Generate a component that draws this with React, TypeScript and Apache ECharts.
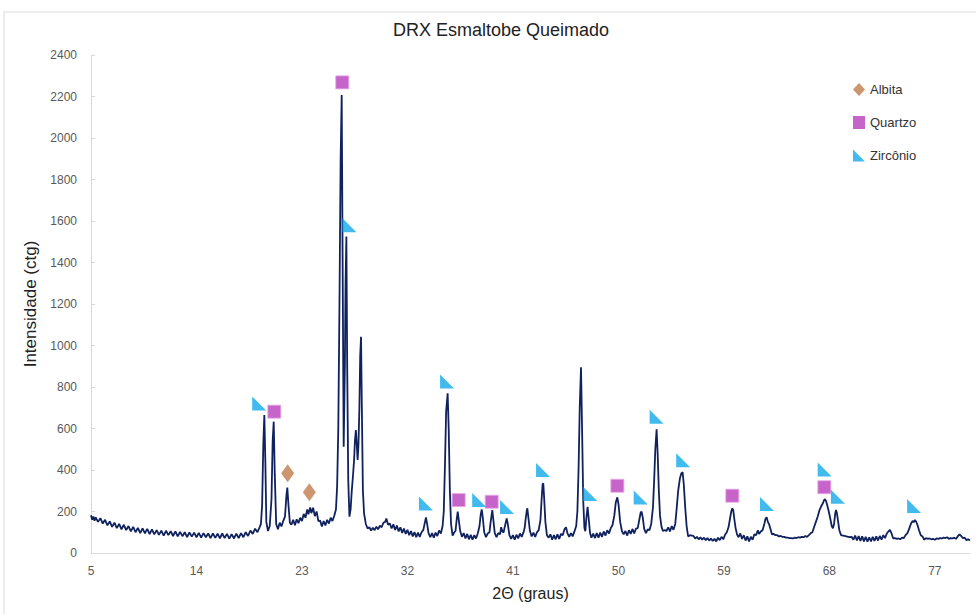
import React, { useEffect, useRef } from "react";
import * as echarts from "echarts";

const TITLE = "DRX Esmaltobe Queimado";
const X_NAME = "2Θ (graus)";
const Y_NAME = "Intensidade (ctg)";
const X_TICKS = [5, 14, 23, 32, 41, 50, 59, 68, 77];

// XRD scan: [2θ, intensity]
const SCAN: number[][] = [
  [5.0, 182], [5.1, 160], [5.2, 176], [5.3, 155], [5.4, 172], [5.6, 150], [5.8, 168], [6.0, 142], [6.2, 160], [6.4, 133], [6.6, 152], [6.8, 126],
  [7.0, 146], [7.2, 120], [7.4, 140], [7.6, 114], [7.8, 136], [8.0, 110], [8.2, 130], [8.4, 104], [8.6, 126], [8.8, 100],
  [9.0, 121], [9.2, 96], [9.4, 119], [9.6, 95], [9.8, 116], [10.0, 91], [10.2, 114], [10.4, 90], [10.6, 110], [10.8, 87],
  [11.0, 108], [11.2, 84], [11.4, 107], [11.6, 86], [11.8, 105], [12.0, 82], [12.2, 104], [12.4, 80], [12.6, 102], [12.8, 81],
  [13.0, 100], [13.2, 77], [13.4, 99], [13.6, 79], [13.8, 98], [14.0, 76], [14.2, 97], [14.4, 74], [14.6, 96], [14.8, 76],
  [15.0, 94], [15.2, 72], [15.4, 95], [15.6, 73], [15.8, 93], [16.0, 71], [16.2, 94], [16.4, 72], [16.6, 92], [16.8, 69],
  [17.0, 91], [17.2, 70], [17.4, 93], [17.6, 72], [17.8, 96], [18.0, 76], [18.2, 100], [18.4, 82], [18.6, 108], [18.8, 92],
  [19.0, 117], [19.2, 100], [19.4, 126], [19.5, 140], [19.6, 230], [19.7, 520], [19.79, 665], [19.88, 430], [19.96, 150], [20.1, 106],
  [20.25, 130], [20.4, 260], [20.5, 540], [20.59, 633], [20.68, 380], [20.8, 140], [20.95, 114], [21.1, 146], [21.25, 128], [21.4, 154],
  [21.55, 175], [21.68, 280], [21.75, 315], [21.85, 230], [21.97, 146], [22.1, 136], [22.25, 160], [22.4, 134], [22.55, 162], [22.7, 144],
  [22.85, 170], [23.0, 154], [23.15, 188], [23.3, 170], [23.45, 210], [23.55, 186], [23.7, 220], [23.8, 192], [23.95, 218], [24.1, 178],
  [24.25, 200], [24.4, 154], [24.55, 156], [24.7, 128], [24.85, 154], [25.0, 133], [25.15, 160], [25.3, 142], [25.45, 170], [25.6, 154],
  [25.75, 178], [25.9, 210], [26.0, 320], [26.1, 600], [26.2, 1200], [26.3, 1900], [26.39, 2207], [26.47, 1400], [26.56, 512], [26.66, 900],
  [26.72, 1300], [26.79, 1525], [26.86, 900], [26.95, 350], [27.05, 175], [27.15, 210], [27.25, 300], [27.35, 370], [27.45, 450], [27.52, 540],
  [27.6, 593], [27.68, 520], [27.75, 448], [27.82, 520], [27.9, 700], [27.97, 950], [28.04, 1042], [28.11, 700], [28.2, 300], [28.3, 190],
  [28.45, 140], [28.6, 118], [28.75, 124], [28.9, 108], [29.05, 122], [29.2, 110], [29.35, 127], [29.5, 114], [29.65, 132], [29.8, 124],
  [29.95, 146], [30.1, 150], [30.2, 166], [30.35, 136], [30.5, 142], [30.65, 118], [30.8, 138], [30.95, 111], [31.1, 132], [31.25, 104],
  [31.4, 124], [31.55, 97], [31.7, 118], [31.85, 92], [32.0, 112], [32.15, 86], [32.3, 106], [32.45, 80], [32.6, 101], [32.75, 76],
  [32.9, 98], [33.05, 78], [33.2, 100], [33.35, 110], [33.5, 150], [33.58, 172], [33.68, 140], [33.8, 96], [33.95, 76], [34.1, 96],
  [34.25, 74], [34.4, 98], [34.55, 82], [34.7, 108], [34.85, 94], [35.0, 130], [35.1, 200], [35.2, 420], [35.3, 680], [35.43, 770],
  [35.52, 600], [35.62, 300], [35.72, 140], [35.85, 84], [36.0, 100], [36.1, 106], [36.2, 160], [36.29, 199], [36.38, 160], [36.5, 106],
  [36.65, 78], [36.8, 96], [36.95, 70], [37.1, 92], [37.25, 66], [37.4, 88], [37.55, 64], [37.7, 86], [37.85, 70], [38.0, 94],
  [38.15, 130], [38.25, 185], [38.34, 210], [38.43, 170], [38.55, 100], [38.7, 76], [38.85, 94], [39.0, 100], [39.1, 150], [39.24, 207],
  [39.33, 160], [39.45, 96], [39.6, 76], [39.75, 96], [39.9, 90], [40.0, 124], [40.1, 104], [40.2, 98], [40.3, 125], [40.4, 150],
  [40.47, 167], [40.56, 140], [40.7, 86], [40.85, 68], [41.0, 86], [41.15, 64], [41.3, 88], [41.45, 70], [41.6, 94], [41.75, 78],
  [41.9, 99], [42.0, 120], [42.1, 170], [42.2, 210], [42.23, 215], [42.32, 170], [42.45, 106], [42.6, 80], [42.75, 98], [42.9, 78],
  [43.05, 100], [43.2, 110], [43.35, 160], [43.45, 260], [43.53, 330], [43.59, 336], [43.67, 260], [43.77, 150], [43.9, 86], [44.05, 74],
  [44.2, 90], [44.35, 64], [44.5, 86], [44.65, 66], [44.8, 90], [44.95, 68], [45.1, 92], [45.25, 86], [45.4, 114], [45.53, 124],
  [45.65, 96], [45.8, 78], [45.95, 96], [46.1, 80], [46.25, 104], [46.4, 130], [46.5, 200], [46.6, 400], [46.7, 700], [46.81, 895],
  [46.9, 600], [47.0, 250], [47.1, 120], [47.18, 105], [47.27, 170], [47.37, 223], [47.46, 170], [47.58, 96], [47.7, 74], [47.85, 94],
  [48.0, 72], [48.15, 96], [48.3, 74], [48.45, 98], [48.6, 78], [48.75, 104], [48.9, 84], [49.05, 110], [49.2, 94], [49.35, 120],
  [49.5, 135], [49.65, 180], [49.78, 245], [49.91, 268], [50.02, 230], [50.15, 150], [50.3, 106], [50.45, 90], [50.6, 106], [50.75, 84],
  [50.9, 110], [51.05, 92], [51.2, 116], [51.35, 94], [51.5, 118], [51.65, 120], [51.8, 165], [51.9, 195], [51.98, 199], [52.08, 170],
  [52.2, 116], [52.35, 96], [52.5, 114], [52.65, 110], [52.8, 140], [52.95, 220], [53.05, 350], [53.15, 500], [53.26, 596], [53.35, 480],
  [53.45, 300], [53.55, 180], [53.68, 126], [53.8, 106], [53.95, 110], [54.1, 106], [54.25, 124], [54.4, 104], [54.55, 130], [54.7, 112],
  [54.85, 140], [54.95, 200], [55.1, 300], [55.25, 360], [55.38, 385], [55.48, 389], [55.58, 330], [55.7, 220], [55.82, 130], [55.95, 80],
  [56.1, 86], [56.25, 84], [56.4, 82], [56.55, 70], [56.7, 78], [56.85, 66], [57.0, 76], [57.15, 64], [57.3, 74], [57.45, 62],
  [57.6, 72], [57.75, 60], [57.9, 70], [58.05, 58], [58.2, 68], [58.35, 56], [58.5, 74], [58.65, 62], [58.8, 78], [58.95, 66],
  [59.1, 88], [59.25, 100], [59.4, 125], [59.52, 165], [59.63, 200], [59.72, 215], [59.8, 205], [59.9, 160], [60.0, 120], [60.12, 90],
  [60.25, 76], [60.4, 94], [60.55, 68], [60.7, 86], [60.85, 60], [61.0, 80], [61.15, 56], [61.3, 78], [61.45, 64], [61.6, 90],
  [61.75, 86], [61.9, 110], [62.0, 92], [62.15, 104], [62.3, 110], [62.45, 140], [62.55, 165], [62.65, 172], [62.75, 150], [62.85, 140],
  [62.95, 120], [63.1, 90], [63.25, 92], [63.4, 86], [63.55, 86], [63.7, 80], [63.85, 82], [64.0, 78], [64.15, 78], [64.3, 74],
  [64.45, 74], [64.6, 72], [64.75, 72], [64.9, 70], [65.05, 74], [65.2, 72], [65.35, 76], [65.5, 74], [65.65, 78], [65.8, 76],
  [65.95, 82], [66.1, 78], [66.25, 86], [66.4, 95], [66.55, 100], [66.7, 125], [66.85, 150], [67.0, 175], [67.15, 205], [67.3, 225],
  [67.45, 240], [67.55, 255], [67.63, 259], [67.72, 250], [67.82, 230], [67.95, 200], [68.1, 160], [68.2, 130], [68.3, 119], [68.4, 140],
  [68.5, 190], [68.57, 207], [68.65, 190], [68.75, 150], [68.85, 110], [69.0, 86], [69.15, 84], [69.3, 82], [69.45, 80], [69.6, 78],
  [69.75, 76], [69.9, 78], [70.05, 64], [70.2, 84], [70.35, 60], [70.5, 82], [70.65, 58], [70.8, 80], [70.95, 56], [71.1, 78],
  [71.25, 54], [71.4, 76], [71.55, 56], [71.7, 78], [71.85, 58], [72.0, 80], [72.15, 60], [72.3, 82], [72.45, 64], [72.6, 86],
  [72.75, 72], [72.9, 94], [73.05, 105], [73.17, 111], [73.3, 95], [73.45, 70], [73.6, 72], [73.75, 68], [73.9, 70], [74.05, 66],
  [74.2, 74], [74.35, 72], [74.5, 86], [74.65, 95], [74.8, 115], [74.95, 140], [75.1, 155], [75.2, 148], [75.3, 159], [75.4, 152],
  [75.52, 135], [75.65, 110], [75.8, 86], [75.95, 80], [76.1, 64], [76.25, 72], [76.4, 68], [76.55, 70], [76.7, 66], [76.85, 68],
  [77.0, 64], [77.15, 70], [77.3, 68], [77.45, 72], [77.6, 70], [77.75, 74], [77.9, 72], [78.05, 76], [78.2, 68], [78.35, 72],
  [78.5, 70], [78.65, 74], [78.8, 68], [78.95, 80], [79.1, 90], [79.25, 82], [79.4, 72], [79.55, 74], [79.7, 62], [79.85, 66], [80.0, 60],
];

// Phase markers [2θ, intensity]
const ALBITA: number[][] = [[21.78, 384], [23.63, 293]];
const QUARTZO: number[][] = [
  [20.64, 681], [26.44, 2268], [36.37, 255], [39.19, 247], [49.91, 324], [59.72, 276], [67.57, 317],
];
const ZIRCONIO: number[][] = [
  [19.35, 721], [27.05, 1580], [35.38, 826], [33.58, 239], [38.12, 255], [40.5, 222], [43.57, 400],
  [47.6, 284], [51.9, 268], [53.26, 657], [55.53, 447], [62.68, 236], [67.6, 402], [68.73, 271], [75.23, 226],
];

const TRI = "path://M0,0 L0,10 L10,10 Z";
const FONT = "Liberation Sans, Arial, sans-serif";

export default function App() {
  const ref = useRef<HTMLDivElement>(null);
  useEffect(() => {
    if (!ref.current) return;
    const chart = echarts.init(ref.current, null, { renderer: "svg" });
    chart.setOption({
      animation: false,
      backgroundColor: "#ffffff",
      textStyle: { fontFamily: FONT },
      graphic: [
        {
          type: "rect",
          shape: { x: 4, y: 12, width: 1000, height: 700 },
          style: { fill: "none", stroke: "#D9D9D9", lineWidth: 1 },
          silent: true,
          z: -10,
        },
      ],
      title: {
        text: TITLE,
        left: 388,
        top: 16,
        textStyle: { fontSize: 18, fontWeight: "normal", color: "#222", fontFamily: FONT },
      },
      legend: {
        orient: "vertical",
        left: 848,
        top: 78,
        itemGap: 20,
        itemWidth: 12,
        itemHeight: 13,
        itemStyle: { borderWidth: 0 },
        data: ["Albita", "Quartzo", "Zircônio"],
        textStyle: { fontSize: 13, color: "#333", fontFamily: FONT },
      },
      grid: { left: 91, right: 6, top: 55, bottom: 61 },
      xAxis: {
        type: "value",
        min: 5,
        max: 80,
        name: X_NAME,
        nameLocation: "middle",
        nameGap: 32,
        nameTextStyle: { fontSize: 16, color: "#222", fontFamily: FONT },
        axisLine: { show: true, lineStyle: { color: "#D9D9D9" } },
        axisTick: { show: false },
        splitLine: { show: false },
        axisLabel: {
          customValues: X_TICKS,
          color: "#595959",
          fontSize: 12,
          margin: 12,
          fontFamily: FONT,
        },
      },
      yAxis: {
        type: "value",
        min: 0,
        max: 2400,
        interval: 200,
        name: Y_NAME,
        nameLocation: "middle",
        nameGap: 44,
        nameTextStyle: { fontSize: 17, color: "#222", fontFamily: FONT },
        axisLine: { show: true, lineStyle: { color: "#D9D9D9" } },
        axisTick: { show: true, inside: true, length: 4, lineStyle: { color: "#D9D9D9" } },
        splitLine: { show: false },
        axisLabel: {
          color: "#595959",
          fontSize: 12,
          margin: 14,
          fontFamily: FONT,
          formatter: (v: number) => String(v),
        },
      },
      series: [
        {
          name: "DRX",
          type: "line",
          data: SCAN,
          showSymbol: false,
          lineStyle: { color: "#10225e", width: 1.8 },
          z: 2,
        },
        {
          name: "Albita",
          type: "scatter",
          data: ALBITA,
          symbol: "diamond",
          symbolSize: [13, 18],
          itemStyle: { color: "#C27A4E" },
          z: 5,
        },
        {
          name: "Quartzo",
          type: "scatter",
          data: QUARTZO,
          symbol: "rect",
          symbolSize: 13,
          itemStyle: { color: "#B93DBB", borderColor: "#E7A8E8", borderWidth: 1 },
          z: 5,
        },
        {
          name: "Zircônio",
          type: "scatter",
          data: ZIRCONIO,
          symbol: TRI,
          symbolSize: 14,
          itemStyle: { color: "#12AAEA" },
          z: 5,
        },
      ],
    });
    return () => chart.dispose();
  }, []);
  return (
    <div
      ref={ref}
      style={{ position: "fixed", left: 0, top: 0, width: 976, height: 614 }}
    />
  );
}
